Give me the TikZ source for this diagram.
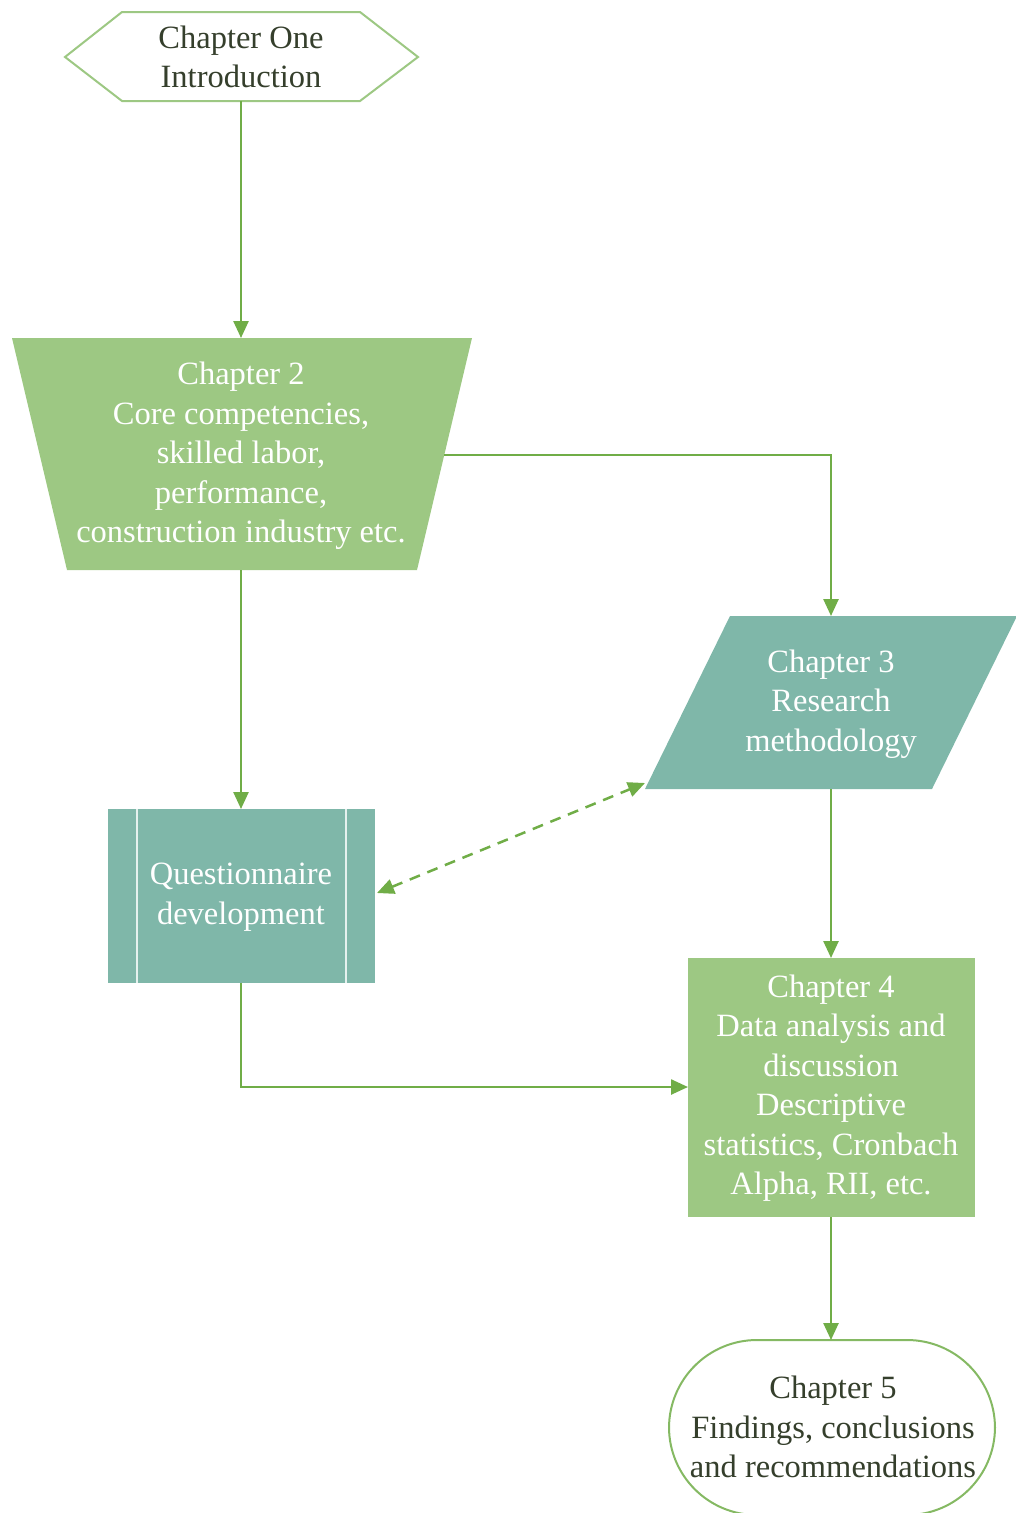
\documentclass[tikz,border=0pt]{standalone}
\usepackage{fontspec}
\setmainfont{Liberation Serif}
\usetikzlibrary{arrows.meta}
\definecolor{lgreen}{HTML}{9DC883}
\definecolor{tealf}{HTML}{7FB7A9}
\definecolor{agreen}{HTML}{70AD47}
\definecolor{dtext}{HTML}{353F2C}
\begin{document}
\begin{tikzpicture}[x=1pt,y=-1pt,
  conn/.style={draw=agreen,line width=2.5pt,-{Triangle[length=17pt,width=15pt]}},
  dconn/.style={draw=agreen,line width=2.5pt,dash pattern=on 11pt off 8pt,{Triangle[length=17pt,width=15pt]}-{Triangle[length=17pt,width=15pt]}},
  lbl/.style={align=center,font=\fontsize{32.5}{39.5}\selectfont,inner sep=0pt},
  wlbl/.style={lbl,text=white},
  dlbl/.style={lbl,text=dtext}]
\useasboundingbox (0,0) rectangle (1015,1513);

% Chapter One hexagon
\draw[draw=lgreen,line width=2pt,fill=white] (65,57)--(122,12)--(360,12)--(418,57)--(360,101)--(122,101)--cycle;
\node[dlbl] (ch1) at (241,57) {Chapter One\\Introduction};
\coordinate (ch1s) at (241,101);

% Chapter 2 trapezoid
\fill[lgreen] (12,338)--(472,338)--(417,570)--(67,570)--cycle;
\node[wlbl] (ch2) at (241,456) {Chapter 2\\Core competencies,\\skilled labor,\\performance,\\construction industry etc.};
\coordinate (ch2n) at (241,338);
\coordinate (ch2e) at (444,455);
\coordinate (ch2s) at (241,570);

% Chapter 3 parallelogram
\fill[tealf] (730,616)--(1017,616)--(932,789)--(645,789)--cycle;
\node[wlbl] (ch3) at (831,704) {Chapter 3\\Research\\methodology};
\coordinate (ch3n) at (831,616);
\coordinate (ch3s) at (831,789);
\coordinate (ch3sw) at (645,783);

% Questionnaire predefined process
\fill[tealf] (108,809) rectangle (375,983);
\draw[white!80!tealf,line width=2pt] (137,809)--(137,983) (346,809)--(346,983);
\node[wlbl] (qd) at (241,897) {Questionnaire\\development};
\coordinate (qdn) at (241,809);
\coordinate (qds) at (241,983);
\coordinate (qde) at (377,893);

% Chapter 4 box
\fill[lgreen] (688,958) rectangle (975,1217);
\node[wlbl] (ch4) at (831,1088) {Chapter 4\\Data analysis and\\discussion\\Descriptive\\statistics, Cronbach\\Alpha, RII, etc.};
\coordinate (ch4n) at (831,958);
\coordinate (ch4w) at (688,1087);
\coordinate (ch4s) at (831,1217);

% Chapter 5 terminal
\draw[draw=agreen!85!white,line width=2pt,fill=white,rounded corners=88pt] (669,1340) rectangle (995,1515);
\node[dlbl] (ch5) at (833,1427) {Chapter 5\\Findings, conclusions\\and recommendations};
\coordinate (ch5n) at (831,1340);

% connectors
\draw[conn] (ch1s) -- (ch2n);
\draw[conn] (ch2e) -| (ch3n);
\draw[conn] (ch2s) -- (qdn);
\draw[conn] (ch3s) -- (ch4n);
\draw[conn] (qds) |- (ch4w);
\draw[conn] (ch4s) -- (ch5n);
\draw[dconn] (qde) -- (ch3sw);
\end{tikzpicture}
\end{document}
